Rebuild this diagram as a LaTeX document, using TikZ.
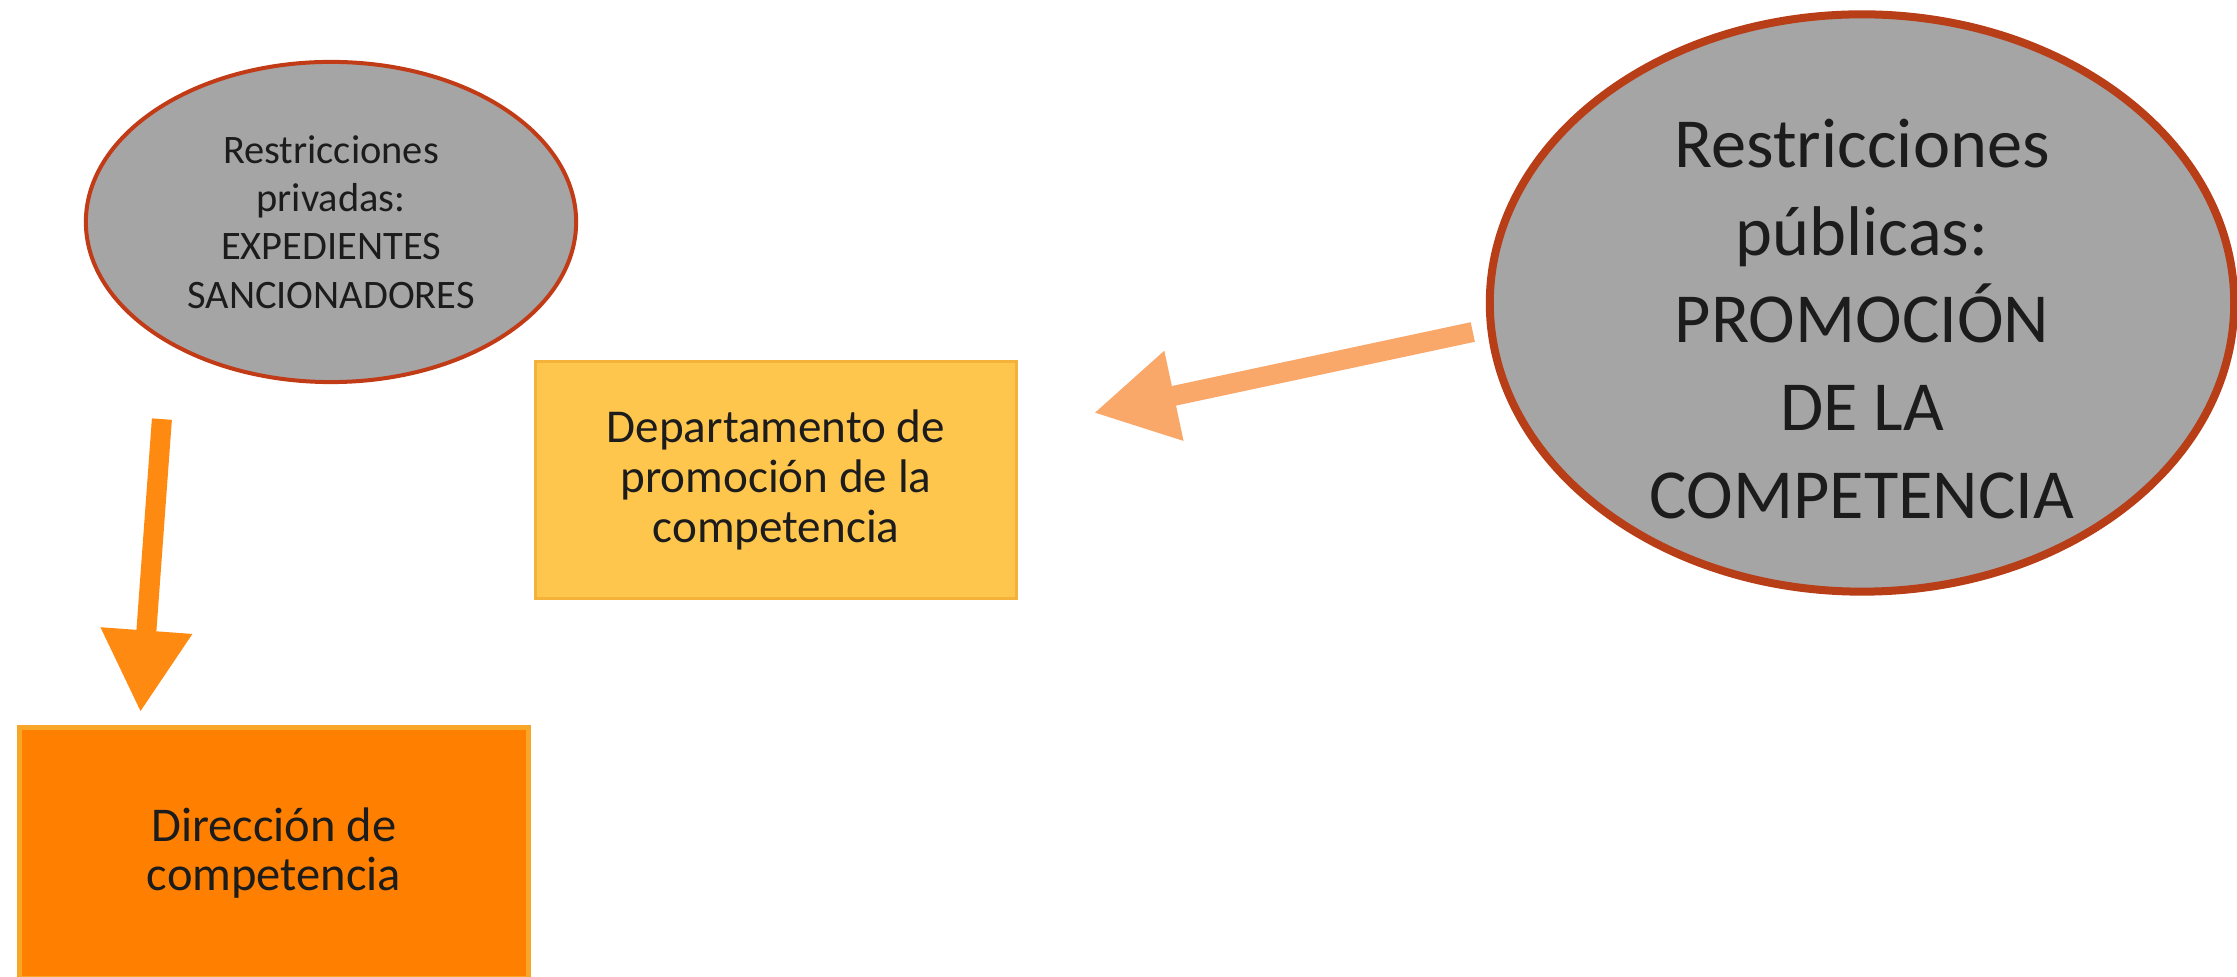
\documentclass[tikz,border=0pt]{standalone}
\usepackage{fontspec}
\setmainfont{Carlito}
\usetikzlibrary{arrows.meta,shapes.geometric}
\definecolor{ellgray}{HTML}{A5A5A5}
\definecolor{ellred}{HTML}{C23B17}
\definecolor{pubred}{HTML}{B83E18}
\definecolor{deptyellow}{HTML}{FFC64E}
\definecolor{deptedge}{HTML}{F4B23A}
\definecolor{dirorange}{HTML}{FF8000}
\definecolor{diredge}{HTML}{F7A628}
\definecolor{arrorange}{HTML}{FF8A12}
\definecolor{arrpeach}{HTML}{FAA76A}
\definecolor{txtgray}{HTML}{1C1C1C}
\begin{document}
\begin{tikzpicture}[x=0.01cm,y=-0.01cm,
  restr/.style={ellipse,fill=ellgray,align=center,text=txtgray,inner sep=0pt},
  dept/.style={rectangle,align=center,text=txtgray},
  fat/.style={line width=0.2cm,-{Triangle[length=0.82cm,width=0.86cm]}}]
\clip (0,0) rectangle (2237,977);
\fill[white] (0,0) rectangle (2237,977);

\node[restr,draw=ellred,line width=0.04cm,minimum width=4.9cm,minimum height=3.2cm,font=\fontsize{11.5}{13.7}\selectfont] (priv) at (331,222) {Restricciones\\privadas:\\EXPEDIENTES\\SANCIONADORES};
\node[restr,draw=pubred,line width=0.08cm,minimum width=7.44cm,minimum height=5.77cm] (pub) at (1862,303) {};
\node[align=center,text=txtgray,font=\fontsize{20}{25}\selectfont] (pubtext) at ([yshift=-0.16cm]pub.center) {Restricciones\\públicas:\\PROMOCIÓN\\DE LA\\COMPETENCIA};

\node[dept,fill=deptyellow,draw=deptedge,line width=0.03cm,minimum width=4.8cm,minimum height=2.36cm,font=\fontsize{13.4}{14.1}\selectfont] (prom) at (776,480) {Departamento de\\promoción de la\\competencia};
\node[dept,fill=dirorange,draw=diredge,line width=0.05cm,minimum width=5.08cm,minimum height=2.5cm,font=\fontsize{13.8}{14.1}\selectfont] (dir) at (274,853) {Dirección de\\competencia};

\draw[fat,arrorange] ([xshift=-1.69cm,yshift=-0.35cm]priv.south) -- ([xshift=1.23cm,yshift=0.13cm]dir.north west);
\draw[fat,arrpeach] ([xshift=-0.13cm,yshift=-0.29cm]pub.west) -- ([xshift=0.76cm,yshift=0.67cm]prom.east);
\end{tikzpicture}
\end{document}
